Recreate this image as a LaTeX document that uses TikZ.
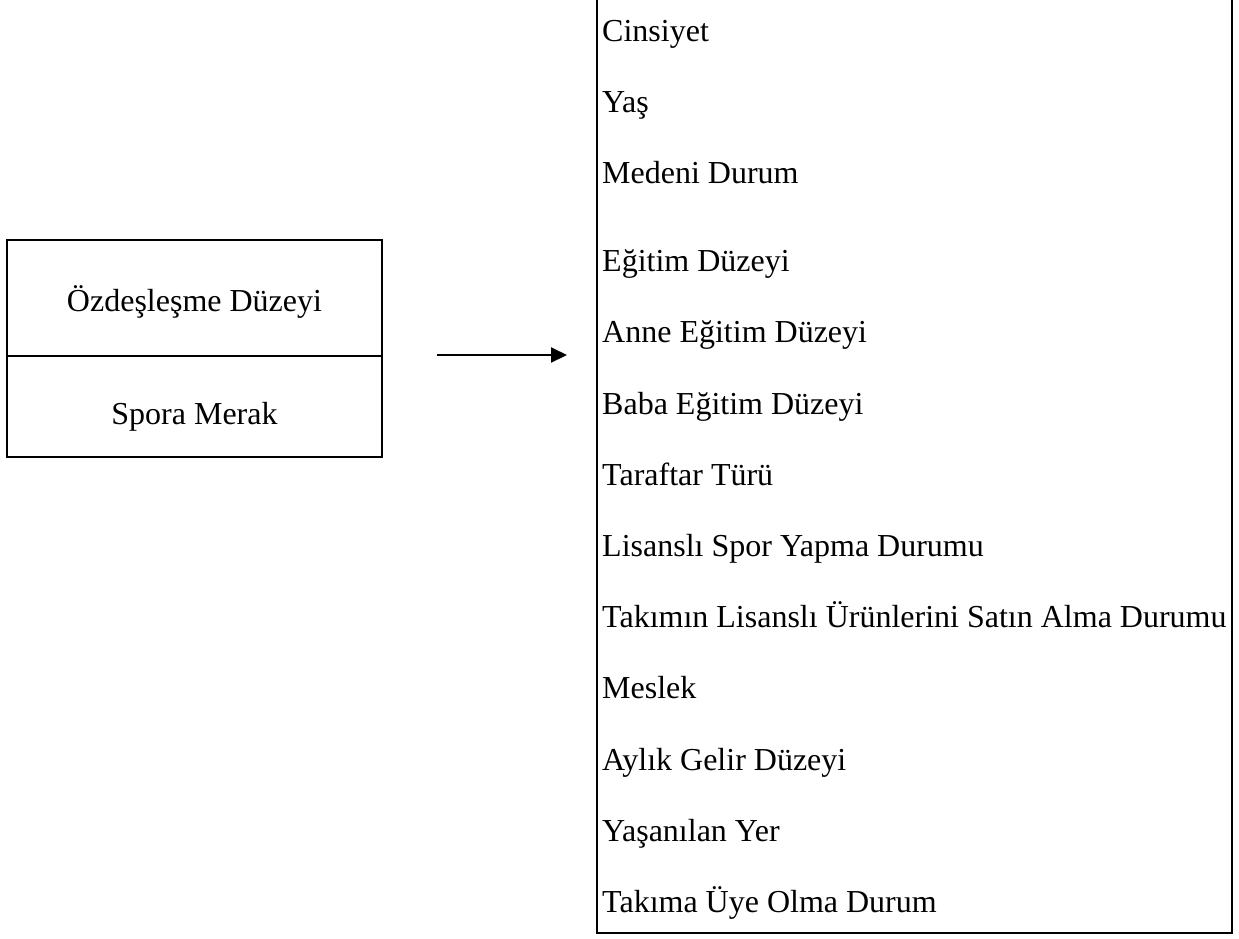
\documentclass[tikz,border=0pt]{standalone}
\usepackage{fontspec}
\setmainfont{Liberation Serif}
\usetikzlibrary{arrows.meta}
\tikzset{
  boxline/.style={line width=2pt, black},
  item/.style={anchor=base west, inner sep=0pt, font=\fontsize{32}{38}\selectfont},
  ctext/.style={anchor=base, inner sep=0pt, font=\fontsize{32}{38}\selectfont},
}
\begin{document}
\begin{tikzpicture}[x=1pt,y=-1pt]
\useasboundingbox (0,0) rectangle (1239,938);
% left box
\draw[boxline] (7,240) rectangle (382,457);
\draw[boxline] (7,356) -- (382,356);
\node[ctext] (ozd) at (194.5,311) {Özdeşleşme Düzeyi};
\node[ctext] (spora) at (194.5,424) {Spora Merak};
% arrow
\coordinate (a1) at (437,355);
\coordinate (a2) at (567,355);
\draw[line width=2pt, -{Triangle[length=16pt,width=15pt]}] (a1) -- (a2);
% right box (open top)
\draw[boxline] (597,-2) -- (597,933) -- (1232,933) -- (1232,-2);
\node[item] (i1) at (602,41.6) {Cinsiyet};
\node[item] (i2) at (602,112.6) {Yaş};
\node[item] (i3) at (602,183.6) {Medeni Durum};
\node[item] (i4) at (602,271.6) {Eğitim Düzeyi};
\node[item] (i5) at (602,342.8) {Anne Eğitim Düzeyi};
\node[item] (i6) at (602,414) {Baba Eğitim Düzeyi};
\node[item] (i7) at (602,485.2) {Taraftar Türü};
\node[item] (i8) at (602,556.4) {Lisanslı Spor Yapma Durumu};
\node[item] (i9) at (602,627.6) {Takımın Lisanslı Ürünlerini Satın Alma Durumu};
\node[item] (i10) at (602,698.8) {Meslek};
\node[item] (i11) at (602,770) {Aylık Gelir Düzeyi};
\node[item] (i12) at (602,841.2) {Yaşanılan Yer};
\node[item] (i13) at (602,912.4) {Takıma Üye Olma Durum};
\end{tikzpicture}
\end{document}
